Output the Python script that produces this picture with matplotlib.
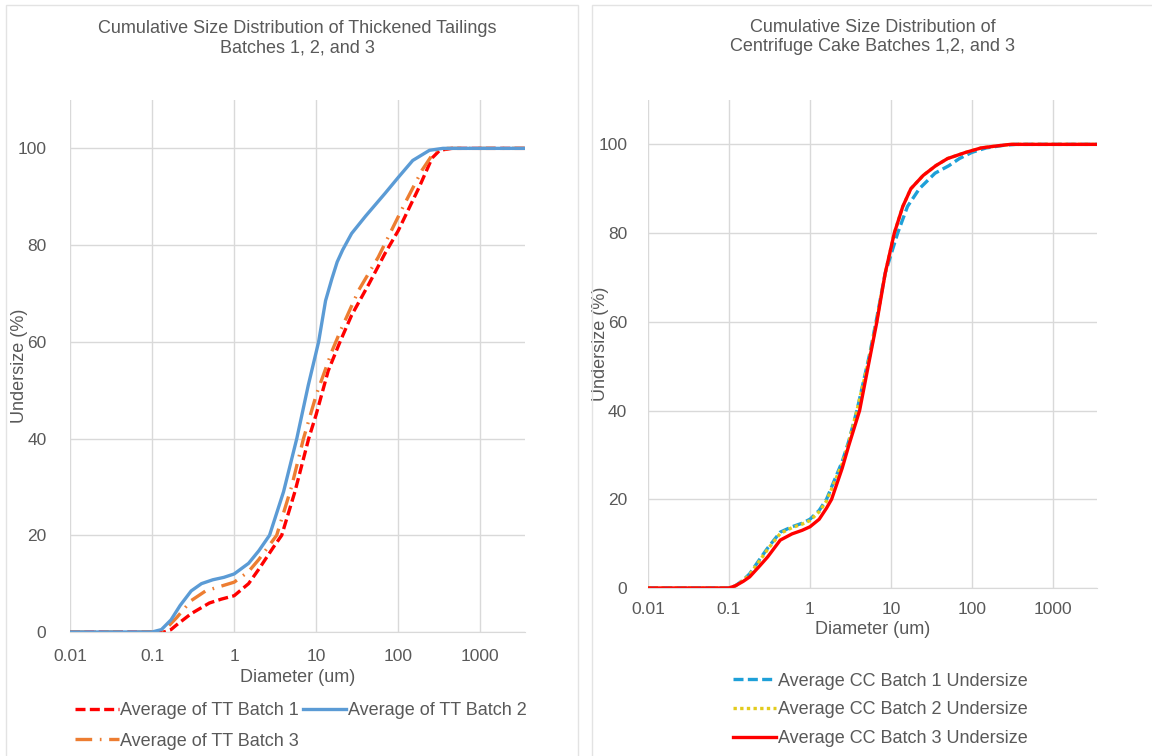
import numpy as np
import matplotlib as mplt
mplt.use("Agg")
import matplotlib.pyplot as plt
from matplotlib.patches import Rectangle

plt.rcParams['font.family'] = ['Liberation Sans', 'DejaVu Sans']

text_color = "#595959"
grid_color = "#d9d9d9"

# ---- left chart: thickened tailings (diameter um, undersize %)
tt1_d = [0.01, 0.14, 0.17, 0.2, 0.3, 0.5, 0.7, 1, 1.5, 2, 3, 3.8, 5.5, 8.1, 10, 14,
         19.5, 27, 44, 69, 100, 180, 258, 320, 450, 3500]
tt1_u = [0, 0, 0.5, 1.5, 3.8, 6, 6.8, 7.5, 10, 13, 17.5, 20, 29, 40, 45, 54,
         60, 65.5, 72, 78.3, 83, 92, 98, 99.6, 100, 100]

tt2_d = [0.01, 0.1, 0.13, 0.17, 0.22, 0.3, 0.4, 0.55, 0.75, 1, 1.5, 2, 2.7, 4, 5.8,
         8, 10.7, 13, 15.5, 18, 21, 27, 40, 69, 100, 150, 240, 350, 3500]
tt2_u = [0, 0, 0.5, 2.5, 5.5, 8.5, 10, 10.8, 11.3, 12, 14.2, 16.8, 20, 29, 40,
         51, 60, 68.5, 73, 76.5, 79, 82.4, 86, 90.7, 94, 97.5, 99.6, 100, 100]

tt3_d = [0.01, 0.12, 0.15, 0.2, 0.3, 0.45, 0.7, 1, 1.5, 2, 3.3, 5, 7, 10, 15.5,
         20, 33, 57, 120, 195, 280, 400, 3500]
tt3_u = [0, 0, 0.8, 3, 6.5, 8.5, 9.5, 10.3, 12.5, 15, 20, 30, 40, 49, 58,
         62.5, 70.7, 77.5, 88.6, 95.5, 99.5, 100, 100]

# ---- right chart: centrifuge cake
cc1_d = [0.01, 0.1, 0.12, 0.15, 0.18, 0.24, 0.3, 0.43, 0.6, 0.8, 1, 1.3, 1.6, 2.5, 3,
         3.8, 5.5, 6.7, 8.5, 12.1, 16, 22.4, 35, 52, 70, 100, 150, 250, 350, 3500]
cc1_u = [0, 0, 0.5, 1.8, 3.2, 6.5, 9, 12.6, 13.8, 14.6, 15.5, 17.5, 20, 28.5, 33,
         40, 53, 61, 71, 80, 86, 90, 93.5, 95.2, 96.8, 98.2, 99.2, 99.8, 100, 100]

cc2_d = [0.01, 0.1, 0.12, 0.15, 0.18, 0.24, 0.3, 0.43, 0.6, 0.8, 1, 1.3, 1.6, 2.5, 3,
         3.8, 5.5, 6.7, 8.5, 11, 14, 17.6, 25, 35.8, 50, 84, 130, 214, 300, 3500]
cc2_u = [0, 0, 0.5, 1.7, 3.0, 6.2, 8.7, 12.3, 13.6, 14.4, 15.2, 17.2, 19.6, 28, 32.6,
         40, 52.5, 60.5, 71, 80, 86, 90, 93, 95.2, 96.8, 98.2, 99.2, 99.7, 100, 100]

cc3_d = [0.01, 0.1, 0.12, 0.15, 0.18, 0.24, 0.3, 0.43, 0.6, 0.8, 1, 1.3, 1.6, 1.85,
         2.5, 3, 4.1, 5.5, 6.7, 8.5, 11, 14, 17.6, 25, 35.8, 50, 84, 130, 214, 300, 3500]
cc3_u = [0, 0, 0.5, 1.5, 2.5, 5, 7, 10.8, 12.2, 13, 13.8, 15.5, 18, 20,
         27, 32, 40, 52, 60, 71, 80, 86, 90, 93, 95.2, 96.8, 98.2, 99.2, 99.7, 100, 100]

y_ticks = [0, 20, 40, 60, 80, 100]
x_ticks = [0.01, 0.1, 1, 10, 100, 1000]
x_tick_labels = ["0.01", "0.1", "1", "10", "100", "1000"]

fig = plt.figure(figsize=(11.52, 7.56), dpi=100)

# chart area frames
fig.patches.append(Rectangle((6/1152, -0.01), (578-6)/1152, 1 - 5/756 + 0.01,
                             transform=fig.transFigure, fill=False,
                             edgecolor="#e3e3e3", linewidth=1.0))
fig.patches.append(Rectangle((592/1152, -0.01), 0.5, 1 - 5/756 + 0.01,
                             transform=fig.transFigure, fill=False,
                             edgecolor="#e3e3e3", linewidth=1.0))

ax_l = fig.add_axes([70/1152, 1 - 632/756, (525-70)/1152, (632-100)/756])
ax_r = fig.add_axes([648/1152, 1 - 588/756, (1097-648)/1152, (588-100)/756])


def style_axes(ax, xpad, ypad):
    ax.set_xscale("log")
    ax.set_xlim(0.01, 3500)
    ax.set_ylim(0, 110)
    ax.set_xticks(x_ticks)
    ax.set_xticklabels(x_tick_labels)
    ax.xaxis.set_minor_locator(mplt.ticker.NullLocator())
    ax.set_yticks(y_ticks)
    ax.grid(True, color=grid_color, linewidth=1.0)
    ax.set_axisbelow(True)
    for side in ["top", "right", "left"]:
        ax.spines[side].set_visible(False)
    ax.spines["bottom"].set_color(grid_color)
    ax.tick_params(axis="x", length=0, pad=xpad, labelsize=12.5, labelcolor=text_color)
    ax.tick_params(axis="y", length=0, pad=ypad, labelsize=12.5, labelcolor=text_color)


style_axes(ax_l, 12, 17)
style_axes(ax_r, 10, 15)

lw = 2.4
ax_l.plot(tt1_d, tt1_u, color="#ff0000", linewidth=lw, dashes=(3, 1.3),
          label="Average of TT Batch 1")
ax_l.plot(tt3_d, tt3_u, color="#ed7d31", linewidth=lw, dashes=(5, 2.3, 0.5, 2.3),
          label="Average of TT Batch 3")
ax_l.plot(tt2_d, tt2_u, color="#5b9bd5", linewidth=lw, label="Average of TT Batch 2")

ax_r.plot(cc1_d, cc1_u, color="#1ea0d8", linewidth=lw, dashes=(3, 1.3),
          label="Average CC Batch 1 Undersize")
ax_r.plot(cc2_d, cc2_u, color="#e2cb1c", linewidth=lw, dashes=(1, 1),
          label="Average CC Batch 2 Undersize")
ax_r.plot(cc3_d, cc3_u, color="#ff0000", linewidth=lw,
          label="Average CC Batch 3 Undersize")

ax_l.set_title("Cumulative Size Distribution of Thickened Tailings\nBatches 1, 2, and 3",
               fontsize=13, color=text_color, pad=34, linespacing=1.2)
ax_r.set_title("Cumulative Size Distribution of\nCentrifuge Cake Batches 1,2, and 3",
               fontsize=13, color=text_color, pad=35, linespacing=1.2)

ax_l.set_xlabel("Diameter (um)", fontsize=13, color=text_color, labelpad=4)
ax_r.set_xlabel("Diameter (um)", fontsize=13, color=text_color, labelpad=3)
ax_l.set_ylabel("Undersize (%)", fontsize=13, color=text_color)
ax_r.set_ylabel("Undersize (%)", fontsize=13, color=text_color)
ax_l.yaxis.set_label_coords((28-70)/(525-70), 0.5)
ax_r.yaxis.set_label_coords((609-648)/(1097-648), 0.5)

leg_l = fig.legend(*ax_l.get_legend_handles_labels(), loc="center",
                   bbox_to_anchor=(301/1152, 1 - 726/756), ncol=2, frameon=False,
                   fontsize=13, handlelength=2.4, handletextpad=0.1,
                   columnspacing=0.2, labelspacing=0.75, borderpad=0)
leg_r = fig.legend(*ax_r.get_legend_handles_labels(), loc="center",
                   bbox_to_anchor=(880/1152, 1 - 710/756), ncol=1, frameon=False,
                   fontsize=13, handlelength=2.4, handletextpad=0.1,
                   labelspacing=0.66, borderpad=0)
for leg in (leg_l, leg_r):
    for t in leg.get_texts():
        t.set_color(text_color)

fig.savefig("out.png", dpi=100)
